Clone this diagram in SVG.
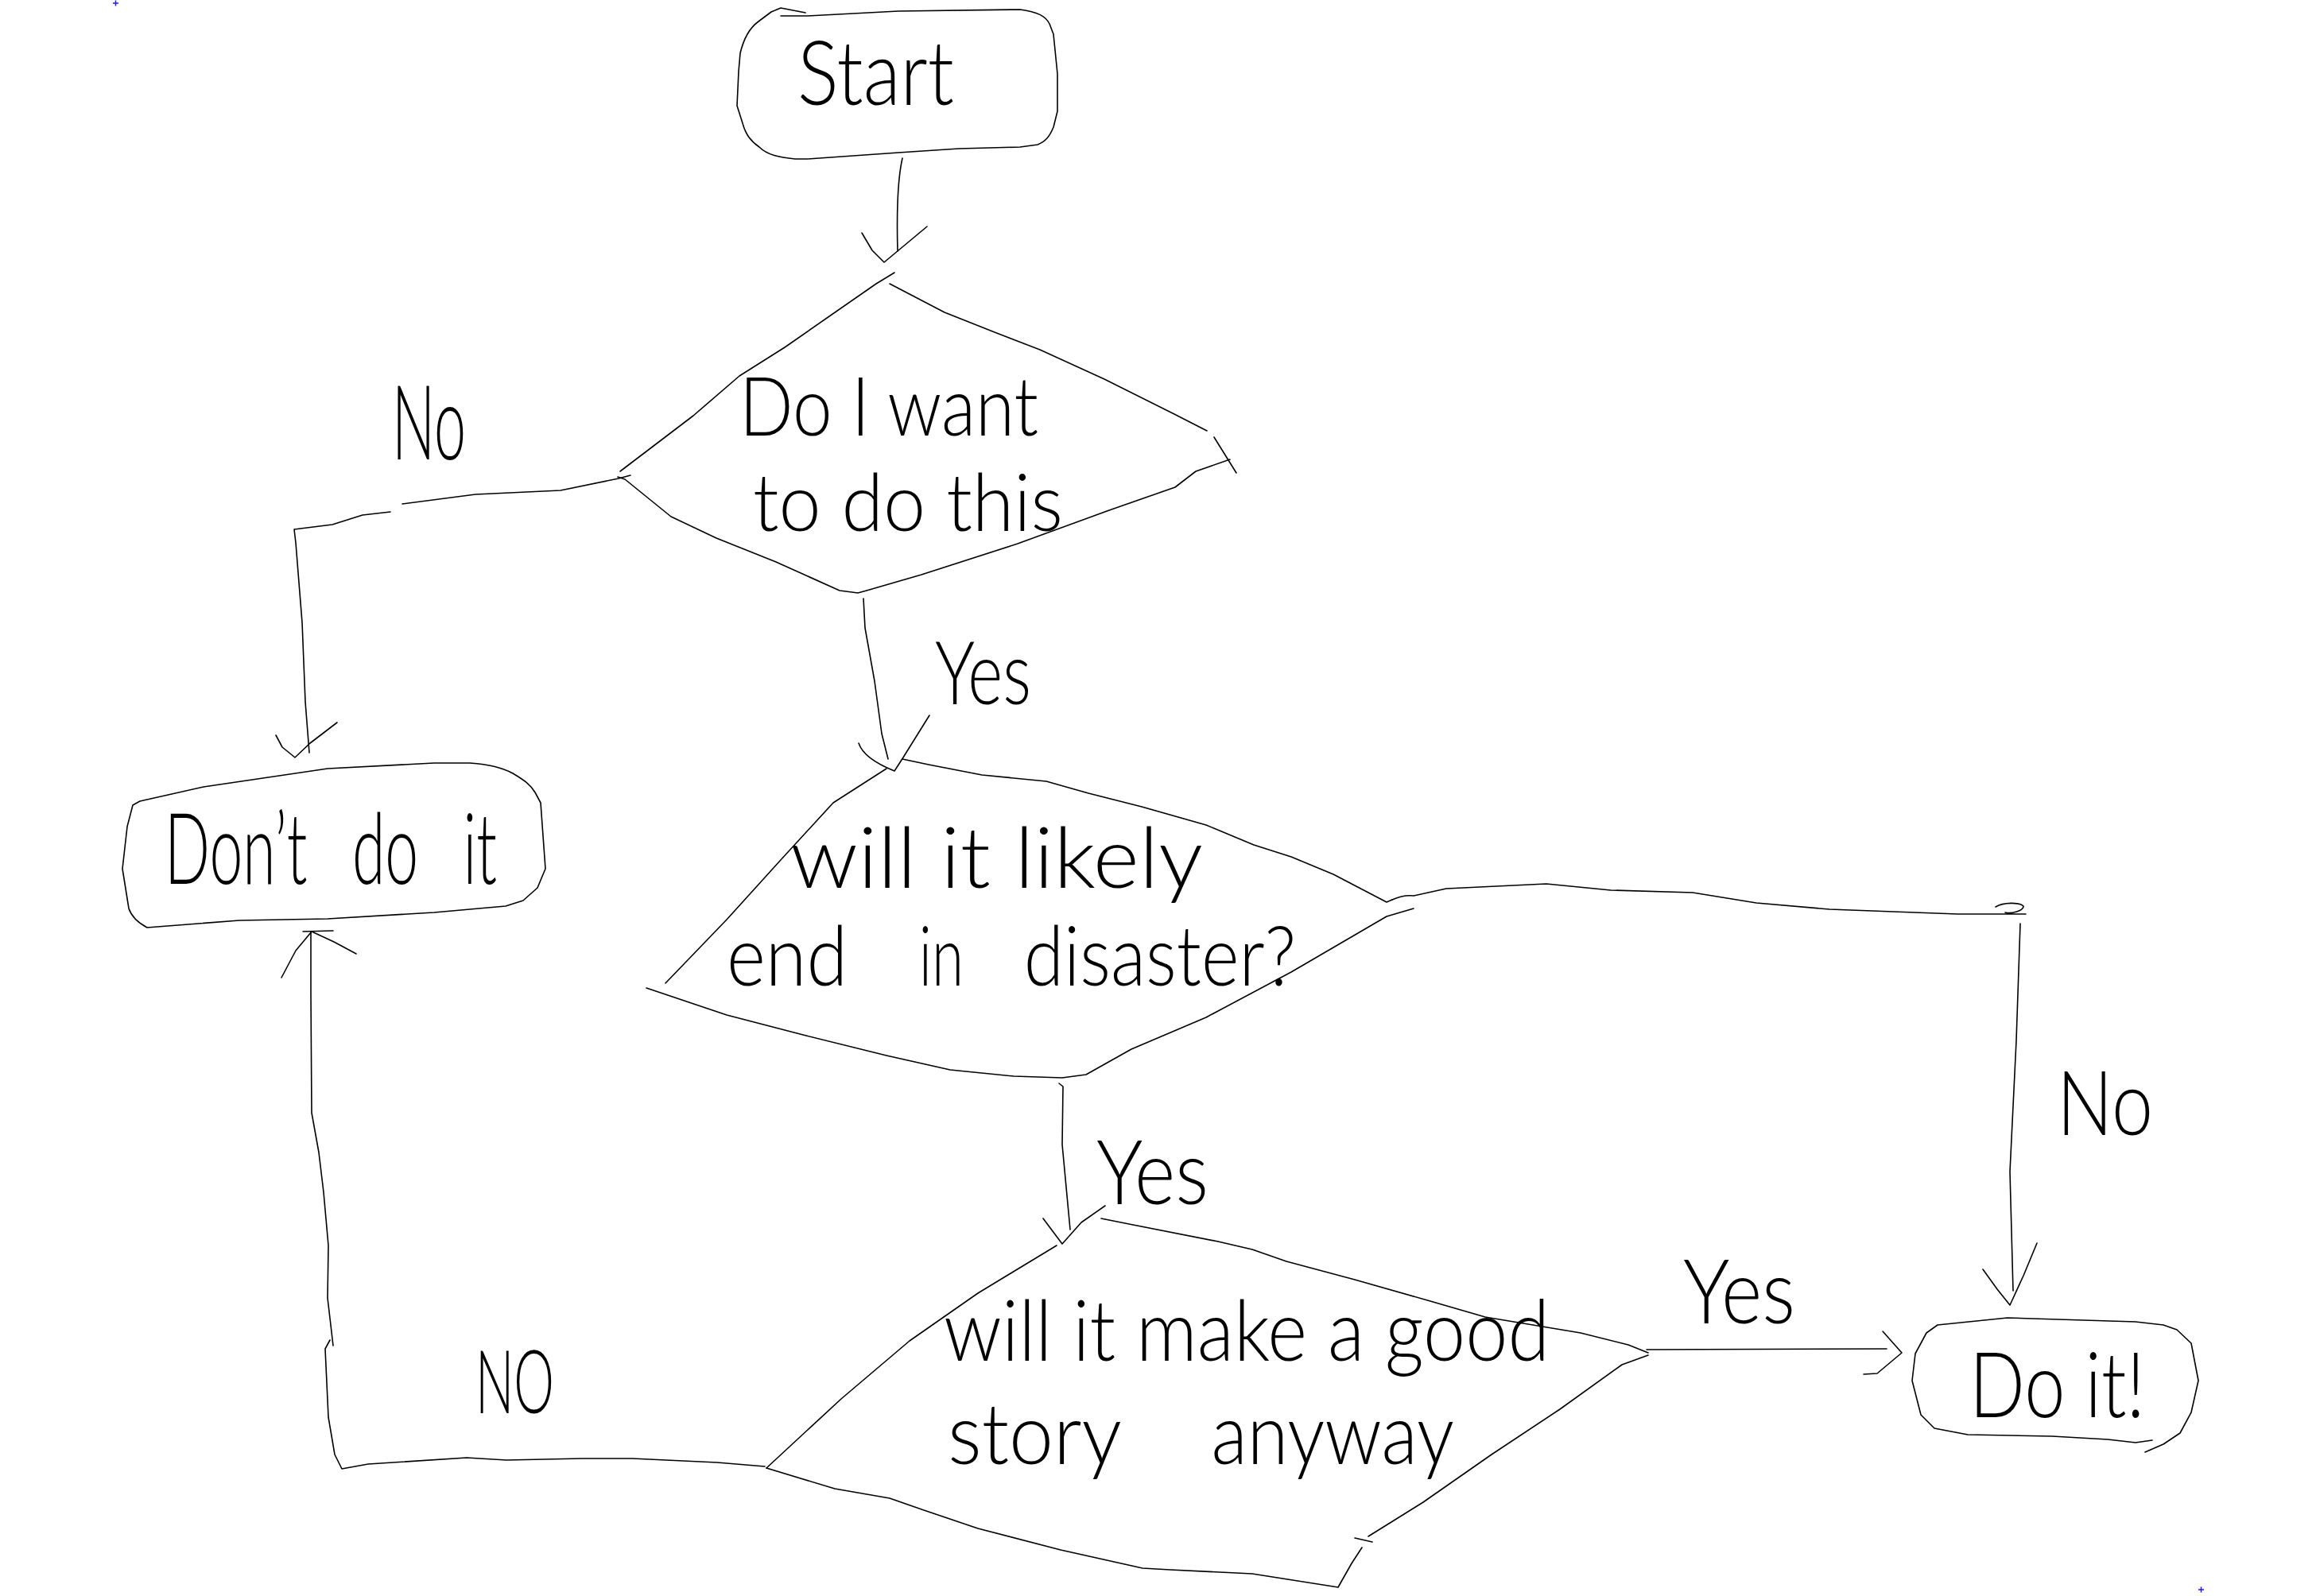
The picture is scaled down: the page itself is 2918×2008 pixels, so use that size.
<svg xmlns="http://www.w3.org/2000/svg" width="2918" height="2008" viewBox="0 0 2918 2008">
<style>
.s{fill:none;stroke:#000;stroke-width:1.6;stroke-linejoin:round;stroke-linecap:round}
.t{font-family:Lato,'Noto Sans','DejaVu Sans',sans-serif;font-weight:300;fill:#000}
.m{fill:none;stroke:#1a1aff;stroke-width:1.5}
</style>
<rect width="2918" height="2008" fill="#fff"/>
<path class="m" d="M142 4 h7 M145.5 0.5 v7 M2765 2000 h7 M2768.5 1996.5 v7"/>
<g id="connectors">
<path class="s" d="M1135 199 C1128 230 1128 280 1129 316"/>
<path class="s" d="M1084 293 L1097 315 L1112 330 L1130 315 L1166 285"/>
<path class="s" d="M793 598 L778 602 L705 617 L598 622 L506 634 M491 644 L456 648 L418 660 L370 666 L372 683 L380 783 L384 883 L389 947"/>
<path class="s" d="M347 925 L355 940 L371 953 L390 935 L424 909"/>
<path class="s" d="M1086 753 L1088 790 L1100 857 L1109 923 L1117 955"/>
<path class="s" d="M1080 935 C1085 950 1105 962 1125 970 L1136 953 L1169 900"/>
<path class="s" d="M1751 1132 C1760 1128 1770 1126 1778 1127 L1819 1118 L1945 1112 L2026 1120 L2129 1123 L2209 1136 L2301 1144 L2381 1147 L2462 1150 L2548 1150 M2510 1141 C2520 1135 2540 1135 2545 1140 C2545 1146 2530 1150 2522 1148"/>
<path class="s" d="M2541 1162 L2536 1309 L2528 1474 L2532 1624"/>
<path class="s" d="M2494 1597 L2512 1622 L2528 1642 L2545 1605 L2562 1564"/>
<path class="s" d="M1332 1363 L1337 1367 L1336 1440 L1346 1547"/>
<path class="s" d="M1312 1533 L1336 1565 L1360 1538 L1390 1517"/>
<path class="s" d="M2071 1698 L2373 1697"/>
<path class="s" d="M2368 1675 L2392 1702 L2361 1728 L2344 1729"/>
<path class="s" d="M962 1845 L902 1840 L795 1835 L732 1835 L637 1837 L587 1834 L463 1842 L430 1848 L421 1830 L413 1783 L409 1697 L415 1686 M419 1693 L412 1633 L413 1567 L407 1500 L401 1450 L392 1400 L391 1250 L391 1173"/>
<path class="s" d="M354 1230 L372 1196 L392 1172 L420 1185 L448 1200 M381 1172 L419 1171"/>
</g>
<g id="node-start">
<path class="s" d="M982 10 L1013 16 M982 20 L1015 20 L1130 14 L1283 12 C1305 15 1315 20 1320 30 L1325 43 L1330 93 L1330 140 L1325 160 C1320 172 1315 178 1305 182 L1283 185 L1206 187 L1130 192 L1015 200 L1000 200 C980 198 965 195 955 185 C945 178 938 170 934 155 L927 133 L929 90 L931 67 C935 50 943 35 954 27 L970 15 L982 10"/>
<text class="t" x="1003" y="132" font-size="112" textLength="197" lengthAdjust="spacingAndGlyphs">Start</text>
</g>
<g id="node-d1">
<path class="s" d="M1125 343 L1102 357 L987 437 L930 473 L872 523 L780 593"/>
<path class="s" d="M1119 357 L1188 393 L1251 418 L1308 440 L1389 477 L1475 520 L1518 542 M1527 550 L1555 595"/>
<path class="s" d="M1547 578 L1504 593 L1478 613 L1395 642 L1280 684 L1159 723 L1090 743 L1079 746 L1056 743 L976 707 L901 677 L844 650 L786 603 L777 600"/>
<text class="t" x="930" y="548" font-size="102" textLength="376" lengthAdjust="spacingAndGlyphs">Do I want</text>
<text class="t" x="947" y="668" font-size="100" textLength="390" lengthAdjust="spacingAndGlyphs">to do this</text>
</g>
<g id="node-dont">
<path class="s" d="M176 1008 L256 990 L412 967 L546 960 L591 960 C615 962 630 965 645 973 C660 982 667 987 673 997 L680 1010 L686 1093 L676 1117 L658 1133 L636 1140 L546 1148 L412 1156 L301 1158 L185 1167 C172 1160 165 1152 162 1143 L154 1093 L160 1040 L167 1013 L176 1008"/>
<text class="t" x="207" y="1112" font-size="125" word-spacing="60" textLength="418" lengthAdjust="spacingAndGlyphs">Don’t do it</text>
</g>
<g id="node-d2">
<path class="s" d="M1135 955 L1168 962 L1235 975 L1316 983 L1369 998 L1436 1015 L1517 1038 L1577 1063 L1624 1078 L1677 1100 L1744 1135 L1751 1132"/>
<path class="s" d="M1778 1143 L1744 1153 L1624 1223 L1517 1280 L1423 1320 L1366 1352 L1336 1356 L1275 1354 L1195 1346 L1115 1328 L1014 1303 L914 1277 L813 1243"/>
<path class="s" d="M1115 967 L1048 1010 L981 1083 L914 1157 L837 1237"/>
<text class="t" x="994" y="1117" font-size="106" textLength="519" lengthAdjust="spacingAndGlyphs">will it likely</text>
<text class="t" font-size="104" y="1240"><tspan x="914" textLength="152" lengthAdjust="spacingAndGlyphs">end</tspan><tspan x="1136" textLength="76" lengthAdjust="spacingAndGlyphs"> in</tspan><tspan x="1263" textLength="367" lengthAdjust="spacingAndGlyphs"> disaster?</tspan></text>
</g>
<g id="node-d3">
<path class="s" d="M1385 1533 L1420 1540 L1532 1562 L1575 1572 L1618 1587 L1704 1610 L1799 1637 L1868 1657 L1988 1677 L2048 1692 L2073 1702"/>
<path class="s" d="M2073 1705 L2040 1717 L1962 1773 L1876 1830 L1790 1890 L1721 1933 M1704 1935 L1726 1940 M1713 1947 L1700 1967 L1683 1997 L1575 1980 L1472 1975 L1437 1973 L1334 1950 L1230 1923 L1162 1900 L1119 1885 L1050 1873 L964 1847"/>
<path class="s" d="M964 1847 L1058 1760 L1144 1687 L1230 1627 L1329 1567"/>
<text class="t" x="1187" y="1712" font-size="106" textLength="762" lengthAdjust="spacingAndGlyphs">will it make a good</text>
<text class="t" font-size="106" y="1842"><tspan x="1192" textLength="219" lengthAdjust="spacingAndGlyphs">story</tspan><tspan x="1498" textLength="331" lengthAdjust="spacingAndGlyphs"> anyway</tspan></text>
</g>
<g id="node-doit">
<path class="s" d="M2437 1667 L2525 1658 L2686 1663 L2721 1667 L2738 1673 L2756 1690 L2765 1737 L2756 1777 L2742 1803 L2721 1817 L2698 1827 M2707 1812 L2686 1815 L2651 1811 L2581 1807 L2475 1805 L2433 1797 L2416 1780 L2405 1737 L2409 1703 L2423 1677 L2437 1667"/>
<text class="t" x="2477" y="1783" font-size="115" textLength="221" lengthAdjust="spacingAndGlyphs">Do it!</text>
</g>
<g id="labels">
<text class="t" x="493" y="578" font-size="130" textLength="93" lengthAdjust="spacingAndGlyphs">No</text>
<text class="t" x="1176" y="886" font-size="110" textLength="121" lengthAdjust="spacingAndGlyphs">Yes</text>
<text class="t" x="1379" y="1515" font-size="112" textLength="141" lengthAdjust="spacingAndGlyphs">Yes</text>
<text class="t" x="2117" y="1665" font-size="112" textLength="141" lengthAdjust="spacingAndGlyphs">Yes</text>
<text class="t" x="2587" y="1428" font-size="112" textLength="121" lengthAdjust="spacingAndGlyphs">No</text>
<text class="t" x="598" y="1778" font-size="110" textLength="99" lengthAdjust="spacingAndGlyphs">NO</text>
</g>
</svg>
